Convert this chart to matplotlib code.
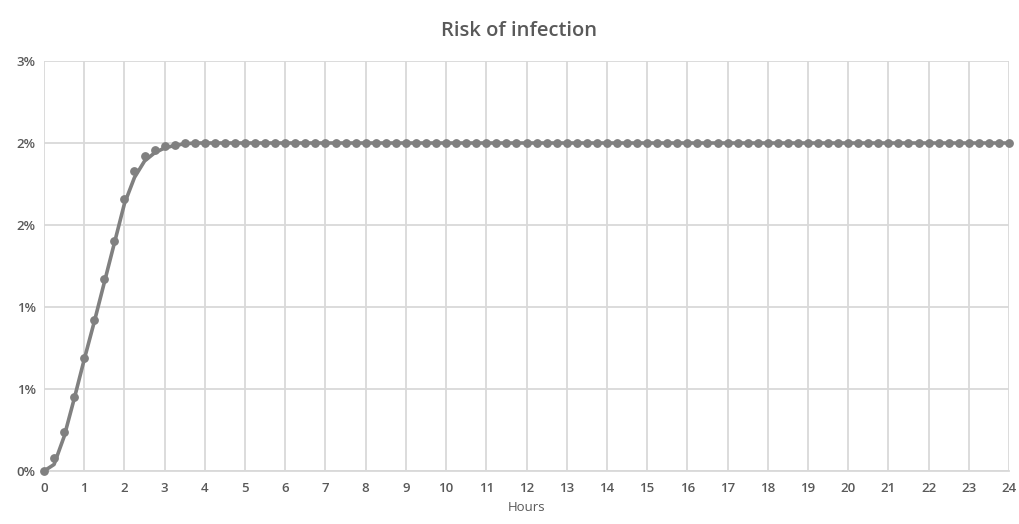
import matplotlib.pyplot as plt
import numpy as np

# time axis in quarter hours
hours = np.arange(0, 24.25, 0.25)

# observed risk (%) at each quarter hour
risk_points = [
    0.00, 0.08, 0.24, 0.45, 0.69, 0.92, 1.17, 1.40,
    1.66, 1.83, 1.92, 1.96, 1.98, 1.99, 2.00, 2.00,
    2.00, 2.00, 2.00, 2.00, 2.00, 2.00, 2.00, 2.00,
    2.00, 2.00, 2.00, 2.00, 2.00, 2.00, 2.00, 2.00,
    2.00, 2.00, 2.00, 2.00, 2.00, 2.00, 2.00, 2.00,
    2.00, 2.00, 2.00, 2.00, 2.00, 2.00, 2.00, 2.00,
    2.00, 2.00, 2.00, 2.00, 2.00, 2.00, 2.00, 2.00,
    2.00, 2.00, 2.00, 2.00, 2.00, 2.00, 2.00, 2.00,
    2.00, 2.00, 2.00, 2.00, 2.00, 2.00, 2.00, 2.00,
    2.00, 2.00, 2.00, 2.00, 2.00, 2.00, 2.00, 2.00,
    2.00, 2.00, 2.00, 2.00, 2.00, 2.00, 2.00, 2.00,
    2.00, 2.00, 2.00, 2.00, 2.00, 2.00, 2.00, 2.00,
    2.00,
]

# fitted curve (%) at the same quarter hours
risk_curve = [
    0.00, 0.04, 0.21, 0.44, 0.68, 0.91, 1.15, 1.39,
    1.63, 1.79, 1.89, 1.94, 1.97, 1.985, 1.995, 2.00,
    2.00, 2.00, 2.00, 2.00, 2.00, 2.00, 2.00, 2.00,
    2.00, 2.00, 2.00, 2.00, 2.00, 2.00, 2.00, 2.00,
    2.00, 2.00, 2.00, 2.00, 2.00, 2.00, 2.00, 2.00,
    2.00, 2.00, 2.00, 2.00, 2.00, 2.00, 2.00, 2.00,
    2.00, 2.00, 2.00, 2.00, 2.00, 2.00, 2.00, 2.00,
    2.00, 2.00, 2.00, 2.00, 2.00, 2.00, 2.00, 2.00,
    2.00, 2.00, 2.00, 2.00, 2.00, 2.00, 2.00, 2.00,
    2.00, 2.00, 2.00, 2.00, 2.00, 2.00, 2.00, 2.00,
    2.00, 2.00, 2.00, 2.00, 2.00, 2.00, 2.00, 2.00,
    2.00, 2.00, 2.00, 2.00, 2.00, 2.00, 2.00, 2.00,
    2.00,
]

y_ticks = [0, 0.5, 1.0, 1.5, 2.0, 2.5]
y_tick_labels = ["0%", "1%", "1%", "2%", "2%", "3%"]
x_ticks = list(range(0, 25))

plt.rcParams['font.family'] = ['Open Sans', 'DejaVu Sans']
plt.rcParams['font.weight'] = 'semibold'
text_color = '#595959'
grid_color = '#d9d9d9'
mark_color = '#808080'

fig = plt.figure(figsize=(10.19, 5.24), dpi=100)
ax = fig.add_axes([0.0432, 0.1011, 0.9470, 0.7825])

ax.plot(hours, risk_curve, color=mark_color, lw=2.6, zorder=3,
        solid_capstyle='round')
ax.plot(hours, risk_points, ls='none', marker='o', ms=5.3,
        color=mark_color, zorder=4, clip_on=False)

ax.set_xlim(0, 24)
ax.set_ylim(0, 2.5)
ax.set_xticks(x_ticks)
ax.set_yticks(y_ticks)
ax.set_yticklabels(y_tick_labels)

ax.grid(True, color=grid_color, lw=1.3, zorder=0)
for side in ['top', 'right', 'left']:
    ax.spines[side].set_visible(False)
ax.spines['bottom'].set_color(grid_color)
ax.spines['bottom'].set_linewidth(1.3)
ax.tick_params(length=0, colors=text_color, labelsize=9.5, pad=8)
ax.tick_params(axis='y', pad=6)

ax.set_title("Risk of infection", color=text_color, fontsize=14.5,
             fontweight='semibold', pad=18, x=0.492)
ax.set_xlabel("Hours", color=text_color, fontsize=9.5, labelpad=4)

fig.savefig("out.png", dpi=100, facecolor='white')
